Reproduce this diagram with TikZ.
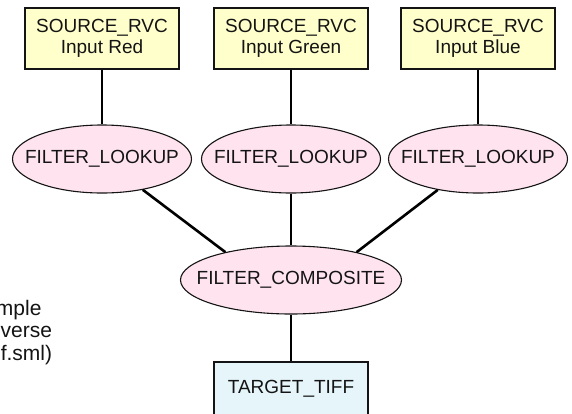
\documentclass[tikz,border=0pt]{standalone}
\usepackage{fontspec}
\setmainfont{Liberation Sans}
\usetikzlibrary{shapes.geometric}
\definecolor{srcfill}{RGB}{255,255,204}
\definecolor{filtfill}{RGB}{255,228,240}
\definecolor{tgtfill}{RGB}{229,245,250}
\definecolor{inkc}{RGB}{20,20,20}
\tikzset{
  srcbox/.style={draw=inkc, line width=1.3pt, fill=srcfill, rectangle, minimum width=154pt, minimum height=61pt, inner sep=0pt, align=center, font=\fontsize{19}{21.5}\selectfont, text=inkc},
  tgtbox/.style={draw=inkc, line width=1.3pt, fill=tgtfill, rectangle, minimum width=154pt, minimum height=54pt, inner sep=0pt, align=center, font=\fontsize{19}{21.5}\selectfont, text=inkc},
  filt/.style={draw=inkc, line width=1.1pt, fill=filtfill, ellipse, minimum height=68pt, inner sep=0pt, font=\fontsize{19}{21.5}\selectfont, text=inkc},
  conn/.style={draw=black, line width=2.6pt},
  lbl/.style={anchor=base east, inner sep=0pt, font=\fontsize{21}{24}\selectfont, text=inkc}
}
\newcommand{\zbox}[1]{\makebox[0pt][c]{#1}}
\begin{document}
\begin{tikzpicture}[x=1pt,y=-1pt]
\clip (0,0) rectangle (572,413);
\fill[white] (0,0) rectangle (572,413);
% sources
\node[srcbox] (s1) at (102,38.5) {SOURCE\_RVC\\Input Red};
\node[srcbox] (s2) at (291,38.5) {SOURCE\_RVC\\Input Green};
\node[srcbox] (s3) at (478,38.5) {SOURCE\_RVC\\Input Blue};
% lookups
\node[filt, minimum width=179pt] (e1) at (102,159) {\zbox{FILTER\_LOOKUP}};
\node[filt, minimum width=179pt] (e2) at (291,159) {\zbox{FILTER\_LOOKUP}};
\node[filt, minimum width=179pt] (e3) at (478,159) {\zbox{FILTER\_LOOKUP}};
% composite
\node[filt, minimum width=221pt] (comp) at (291,280) {\zbox{FILTER\_COMPOSITE}};
% target
\node[tgtbox] (tgt) at (291,389) {TARGET\_TIFF};
% connectors
\draw[conn] (s1) -- (e1);
\draw[conn] (s2) -- (e2);
\draw[conn] (s3) -- (e3);
\draw[conn] (e1) -- (comp.157);
\draw[conn] (e2) -- (comp);
\draw[conn] (e3) -- (comp.23);
\draw[conn] (comp) -- (tgt);
% cut-off left label
\node[lbl] (l1) at (41.7,315) {mple};
\node[lbl] (l2) at (52.3,337.5) {verse};
\node[lbl] (l3) at (52.3,360) {f.sml)};
\end{tikzpicture}
\end{document}
